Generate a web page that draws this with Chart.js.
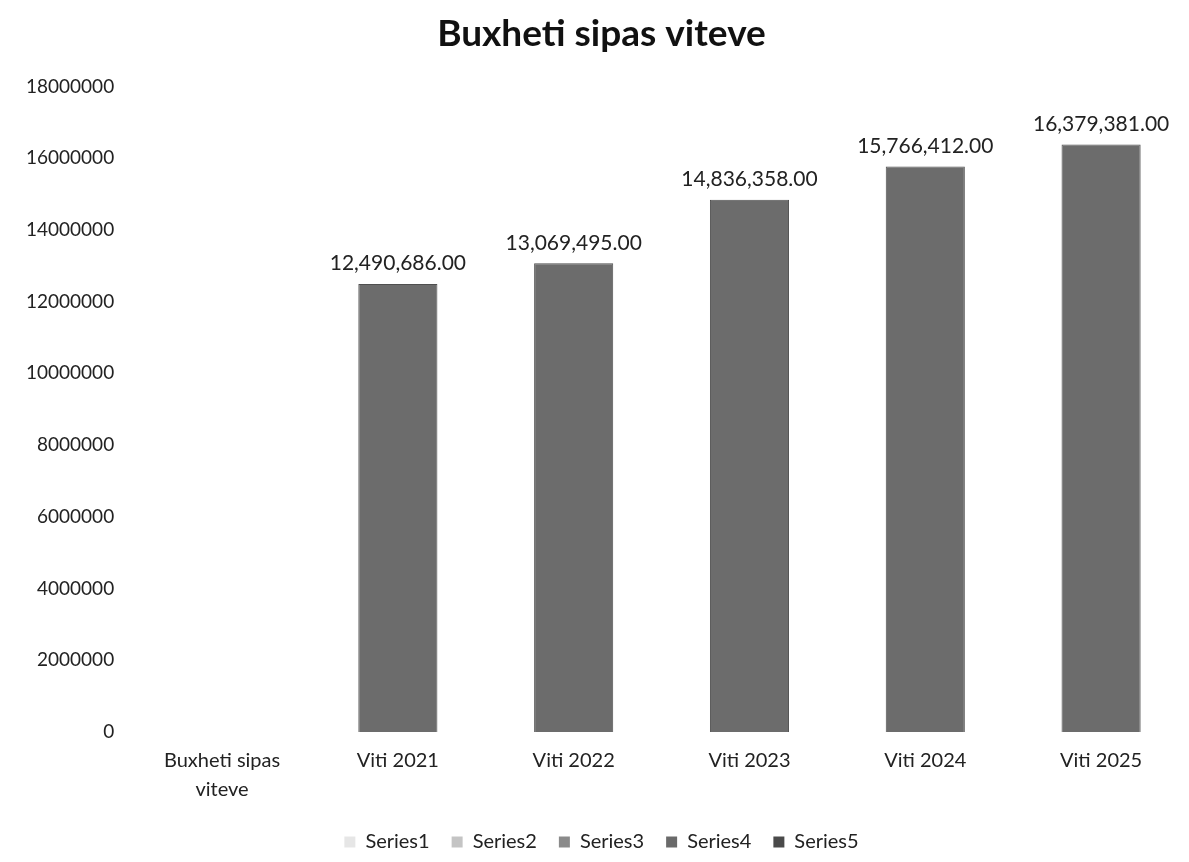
<!DOCTYPE html>
<html lang="sq">

<head>
    <meta charset="UTF-8">
    <title>Buxheti sipas viteve</title>
    <script src="https://cdn.jsdelivr.net/npm/chart.js"></script>
    <style>
        html, body {
            margin: 0;
            padding: 0;
            background: #ffffff;
        }

        .chart-box {
            width: 1189px;
            height: 862px;
        }
    </style>
</head>

<body>
    <div class="chart-box">
        <canvas id="budgetChart" width="1189" height="862"></canvas>
    </div>

    <script>
        // te dhenat
        const categories = [['Buxheti sipas', 'viteve'], 'Viti 2021', 'Viti 2022', 'Viti 2023', 'Viti 2024', 'Viti 2025'];
        const seriesNames = ['Series1', 'Series2', 'Series3', 'Series4', 'Series5'];
        const series1 = [null, 12490686, null, null, null, null];
        const series2 = [null, null, 13069495, null, null, null];
        const series3 = [null, null, null, 14836358, null, null];
        const series4 = [null, null, null, null, 15766412, null];
        const series5 = [null, null, null, null, null, 16379381];
        const yTicks = [0, 2000000, 4000000, 6000000, 8000000, 10000000, 12000000, 14000000, 16000000, 18000000];

        const barColor = '#6c6c6c';
        const legendColors = ['#e6e6e6', '#c4c4c4', '#8a8a8a', '#6a6a6a', '#4a4a4a'];
        const allSeries = [series1, series2, series3, series4, series5];

        const fontFamily = "Lato, 'Open Sans', sans-serif";

        // etiketat mbi shtylla
        const valueLabels = {
            id: 'valueLabels',
            afterDatasetsDraw(chart) {
                const ctx = chart.ctx;
                ctx.save();
                ctx.font = '21px ' + fontFamily;
                ctx.fillStyle = '#222';
                ctx.textAlign = 'center';
                ctx.textBaseline = 'bottom';
                chart.data.datasets.forEach((ds, i) => {
                    const meta = chart.getDatasetMeta(i);
                    meta.data.forEach((bar, j) => {
                        const v = ds.data[j];
                        if (v == null) return;
                        const txt = v.toLocaleString('en-US', { minimumFractionDigits: 2, maximumFractionDigits: 2 });
                        ctx.fillText(txt, bar.x, bar.y - 10);
                    });
                });
                ctx.restore();
            }
        };

        const ctx = document.getElementById('budgetChart').getContext('2d');
        new Chart(ctx, {
            type: 'bar',
            data: {
                labels: categories,
                datasets: allSeries.map((d, i) => ({
                    label: seriesNames[i],
                    data: d,
                    backgroundColor: barColor,
                    borderColor: '#4f4f4f',
                    borderWidth: 1,
                    barPercentage: 0.45,
                    categoryPercentage: 1.0
                }))
            },
            options: {
                responsive: false,
                animation: false,
                layout: {
                    padding: { left: 14, right: 0, top: 4, bottom: 0 }
                },
                scales: {
                    x: {
                        stacked: true,
                        grid: { display: false },
                        border: { display: false },
                        ticks: {
                            color: '#222',
                            font: { size: 20, family: fontFamily, lineHeight: 1.45 },
                            maxRotation: 0,
                            padding: 6
                        }
                    },
                    y: {
                        stacked: true,
                        min: 0,
                        max: 18000000,
                        grid: { display: false },
                        border: { display: false },
                        afterBuildTicks(axis) {
                            axis.ticks = yTicks.map(v => ({ value: v }));
                        },
                        ticks: {
                            color: '#222',
                            font: { size: 19, family: fontFamily },
                            padding: 12,
                            callback: v => String(v)
                        }
                    }
                },
                plugins: {
                    title: {
                        display: true,
                        text: 'Buxheti sipas viteve',
                        color: '#111',
                        font: { size: 37, weight: 'bold', family: fontFamily },
                        padding: { top: 8, bottom: 30 }
                    },
                    legend: {
                        position: 'bottom',
                        labels: {
                            color: '#222',
                            boxWidth: 11,
                            boxHeight: 11,
                            padding: 22,
                            font: { size: 20, family: fontFamily },
                            generateLabels(chart) {
                                return chart.data.datasets.map((ds, i) => ({
                                    text: ds.label,
                                    fillStyle: legendColors[i],
                                    strokeStyle: legendColors[i],
                                    lineWidth: 0,
                                    fontColor: '#222',
                                    datasetIndex: i,
                                    hidden: false
                                }));
                            }
                        }
                    },
                    tooltip: { enabled: false }
                }
            },
            plugins: [valueLabels]
        });
    </script>
</body>

</html>
